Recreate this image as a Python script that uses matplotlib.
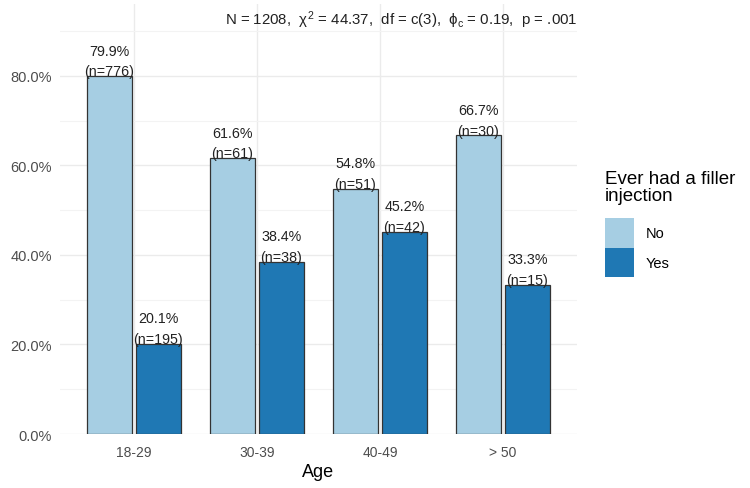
import matplotlib
matplotlib.use("Agg")
import matplotlib.pyplot as plt
import numpy as np

ages = ["18-29", "30-39", "40-49", "> 50"]
pct_no = [79.9, 61.6, 54.8, 66.7]
pct_yes = [20.1, 38.4, 45.2, 33.3]
n_no = [776, 61, 51, 30]
n_yes = [195, 38, 42, 15]
groups = ["No", "Yes"]
colors = ["#a6cee3", "#1f78b4"]
stats = r"N = 1208,  $\chi^2$ = 44.37,  df = c(3),  $\phi_c$ = 0.19,  p = .001"

plt.rcParams['font.family'] = ['Liberation Sans', 'DejaVu Sans']
plt.rcParams['mathtext.fontset'] = 'custom'
plt.rcParams['mathtext.rm'] = 'Liberation Sans'
plt.rcParams['mathtext.it'] = 'Liberation Sans'

fig = plt.figure(figsize=(7.5, 4.89), dpi=100)
ax = fig.add_axes([0.08, 0.1104, 0.689, 0.879])

x = np.arange(len(ages))
w = 0.366
for i, (vals, ns) in enumerate([(pct_no, n_no), (pct_yes, n_yes)]):
    xs = x + (i - 0.5) * 0.4
    ax.bar(xs, np.array(vals) / 100, width=w, color=colors[i],
           edgecolor="#333333", linewidth=0.9, label=groups[i], zorder=3)
    for xi, v, n in zip(xs, vals, ns):
        ax.annotate(f"(n={n})", (xi, v / 100), xytext=(0, 3.5),
                    textcoords="offset points", ha="center", va="center",
                    fontsize=10.3, color="#222222", zorder=4)
        ax.annotate(f"{v:.1f}%", (xi, v / 100), xytext=(0, 18.5),
                    textcoords="offset points", ha="center", va="center",
                    fontsize=10.3, color="#222222", zorder=4)

ax.set_xlim(-0.6, 3.6)
ax.set_ylim(0, 0.96)
ax.set_xticks(x)
ax.set_xticklabels(ages)
ax.set_yticks(np.arange(0, 0.81, 0.2))
ax.set_yticklabels([f"{t:.1f}%" for t in np.arange(0, 81, 20)])
ax.set_yticks(np.arange(0.1, 0.91, 0.2), minor=True)
ax.grid(True, which="major", color="#ebebeb", linewidth=1.0, zorder=0)
ax.grid(True, which="minor", axis="y", color="#f3f3f3", linewidth=0.8, zorder=0)
ax.tick_params(which="both", length=0, colors="#4d4d4d")
ax.tick_params(axis="y", labelsize=10.5, pad=6)
ax.tick_params(axis="x", labelsize=10, pad=8)
for s in ax.spines.values():
    s.set_visible(False)
ax.set_xlabel("Age", fontsize=13, labelpad=3)

fig.text(577 / 750, 1 - 20 / 489, stats, ha="right", va="center",
         fontsize=10.8, color="#222222")

leg = ax.legend(loc="upper left", bbox_to_anchor=(1.054, 0.615), frameon=False,
                title="Ever had a filler\ninjection", title_fontsize=13.5,
                fontsize=10.5, handlelength=2.0, handleheight=2.75,
                handletextpad=0.8, labelspacing=0.0, alignment="left",
                borderaxespad=0, borderpad=0)
leg._legend_title_box._text.set_linespacing(1.05)
leg._legend_box.sep = 10
for h in leg.legend_handles:
    h.set_edgecolor("none")

fig.savefig("out.png", dpi=100)
